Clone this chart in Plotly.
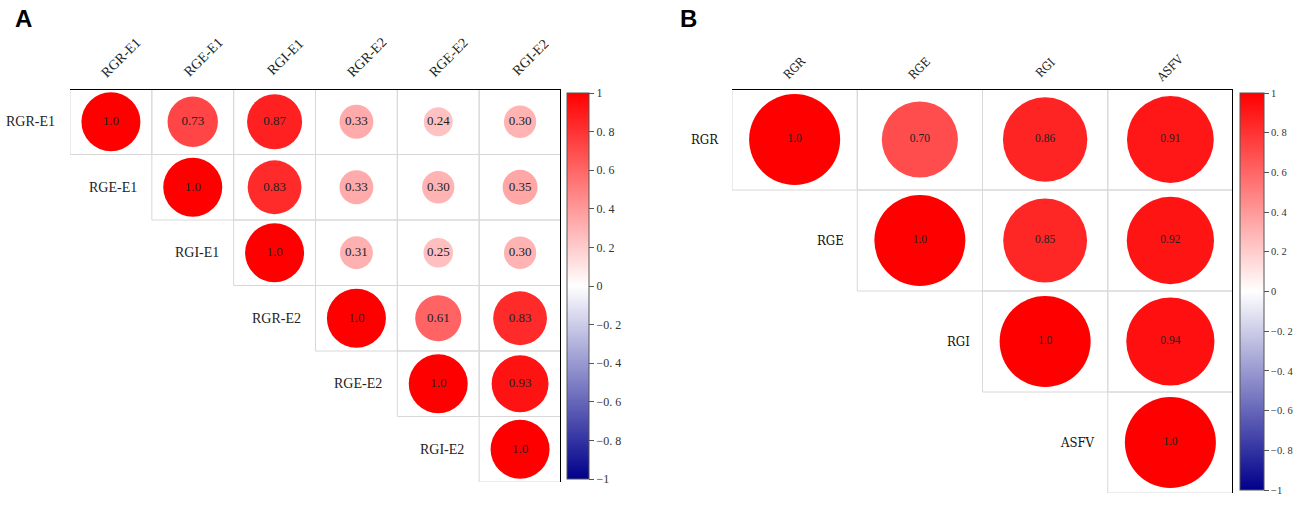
import plotly.graph_objects as go

# ---------------- data ----------------
labels_a = ["RGR-E1", "RGE-E1", "RGI-E1", "RGR-E2", "RGE-E2", "RGI-E2"]
rows_a = [
    [1.0, 0.73, 0.87, 0.33, 0.24, 0.30],
    [1.0, 0.83, 0.33, 0.30, 0.35],
    [1.0, 0.31, 0.25, 0.30],
    [1.0, 0.61, 0.83],
    [1.0, 0.93],
    [1.0],
]
labels_b = ["RGR", "RGE", "RGI", "ASFV"]
rows_b = [
    [1.0, 0.70, 0.86, 0.91],
    [1.0, 0.85, 0.92],
    [1.0, 0.94],
    [1.0],
]
cbar_vals = [1, 0.8, 0.6, 0.4, 0.2, 0, -0.2, -0.4, -0.6, -0.8, -1]
cbar_text = ["1", "0. 8", "0. 6", "0. 4", "0. 2", "0", "\u22120. 2", "\u22120. 4", "\u22120. 6", "\u22120. 8", "\u22121"]

W, H = 1299, 515
colorscale = [[0, "#00008B"], [0.5, "#FFFFFF"], [1, "#FF0000"]]

fig = go.Figure()
shapes = []
annotations = []


def fmt(v):
    return "1.0" if v == 1.0 else f"{v:.2f}"


def panel(labels, rows, xa, ya, diam, cb_box, lab_font, col_font, val_font,
          col_lab_y, col_xshift, gap, cb_font):
    n = len(labels)
    xs, ys, vs, ts = [], [], [], []
    for i, row in enumerate(rows):
        for k, v in enumerate(row):
            j = i + k
            xs.append(j); ys.append(i); vs.append(v); ts.append(fmt(v))
    sizes = [diam * abs(v) ** 0.5 for v in vs]
    cx0, cy0, cy1, cth = cb_box
    fig.add_trace(go.Scatter(
        x=xs, y=ys, mode="markers+text", text=ts,
        textfont=val_font,
        textposition="middle center",
        marker=dict(size=sizes, color=vs, colorscale=colorscale, cmin=-1, cmax=1,
                    line=dict(width=0), opacity=1,
                    showscale=True,
                    colorbar=dict(
                        x=cx0 / W, xanchor="left", y=1 - cy1 / H, yanchor="bottom",
                        lenmode="pixels", len=cy1 - cy0, thickness=cth,
                        thicknessmode="pixels",
                        outlinewidth=1, outlinecolor="#555555",
                        tickmode="array", tickvals=cbar_vals, ticktext=cbar_text,
                        ticks="outside", ticklen=5, tickcolor="#555555",
                        tickfont=cb_font,
                        xpad=0, ypad=0,
                    )),
        xaxis=xa, yaxis=ya, hoverinfo="skip", showlegend=False,
        cliponaxis=False,
    ))
    xr, yr = xa, ya
    # cell borders
    for i in range(n):
        for j in range(i, n):
            shapes.append(dict(type="rect", xref=xr, yref=yr, x0=j - 0.5, x1=j + 0.5,
                               y0=i - 0.5, y1=i + 0.5, line=dict(color="#d8d8d8", width=1),
                               layer="below"))
    # thick top and right borders
    shapes.append(dict(type="line", xref=xr, yref=yr, x0=-0.5, x1=n - 0.5, y0=-0.5, y1=-0.5,
                       line=dict(color="black", width=2)))
    shapes.append(dict(type="line", xref=xr, yref=yr, x0=n - 0.5, x1=n - 0.5, y0=-0.5, y1=n - 0.5,
                       line=dict(color="black", width=2)))
    # row labels
    for i, lab in enumerate(labels):
        annotations.append(dict(xref=xr, yref=yr, x=i - 0.5, y=i, text=lab, showarrow=False,
                                xanchor="right", yanchor="middle", xshift=-gap,
                                font=lab_font))
    # column labels
    for j, lab in enumerate(labels):
        annotations.append(dict(xref=xr, yref="paper", x=j, y=1 - col_lab_y / H, text=lab,
                                showarrow=False, textangle=-45, xanchor="center",
                                yanchor="middle", xshift=col_xshift, font=col_font))


box_a = (70, 561, 89, 482)
box_b = (732, 1233, 89, 493)

panel(labels_a, rows_a, "x", "y", 59, (567, 93, 479, 22),
      dict(family="Liberation Serif", size=14, color="#222222"),
      dict(family="Liberation Serif", size=14, color="#222222"),
      dict(family="Liberation Serif", size=13, color="#222222"),
      57, 10, 13,
      dict(family="Liberation Serif", size=12, color="#333333"))
panel(labels_b, rows_b, "x2", "y2", 91, (1240, 93, 490, 24),
      dict(family="DejaVu Serif Condensed", size=13, color="#111111"),
      dict(family="DejaVu Serif Condensed", size=12, color="#222222"),
      dict(family="Liberation Serif", size=11.5, color="#222222"),
      68, 0, 11,
      dict(family="Liberation Serif", size=10.5, color="#333333"))

annotations.append(dict(xref="paper", yref="paper", x=13 / W, y=1 - 18 / H, text="<b>A</b>",
                        showarrow=False, xanchor="left", yanchor="middle",
                        font=dict(family="Liberation Sans", size=24, color="black")))
annotations.append(dict(xref="paper", yref="paper", x=678 / W, y=1 - 18 / H, text="<b>B</b>",
                        showarrow=False, xanchor="left", yanchor="middle",
                        font=dict(family="Liberation Sans", size=24, color="black")))


def axes(box, n, anchor):
    x0, x1, y0, y1 = box
    xd = [x0 / W, x1 / W]
    yd = [1 - y1 / H, 1 - y0 / H]
    xa = dict(domain=xd, range=[-0.5, n - 0.5], visible=False, fixedrange=True,
              anchor=anchor[1])
    ya = dict(domain=yd, range=[n - 0.5, -0.5], visible=False, fixedrange=True,
              anchor=anchor[0])
    return xa, ya


xa1, ya1 = axes(box_a, len(labels_a), ("x", "y"))
xa2, ya2 = axes(box_b, len(labels_b), ("x2", "y2"))

fig.update_layout(
    width=W, height=H,
    margin=dict(l=0, r=0, t=0, b=0, autoexpand=False),
    paper_bgcolor="white", plot_bgcolor="white",
    xaxis=xa1, yaxis=ya1, xaxis2=xa2, yaxis2=ya2,
    shapes=shapes, annotations=annotations,
)

fig.write_html("out.html", config={"displayModeBar": False},
               post_script="document.body.style.margin='0px';document.body.style.overflow='hidden';")
